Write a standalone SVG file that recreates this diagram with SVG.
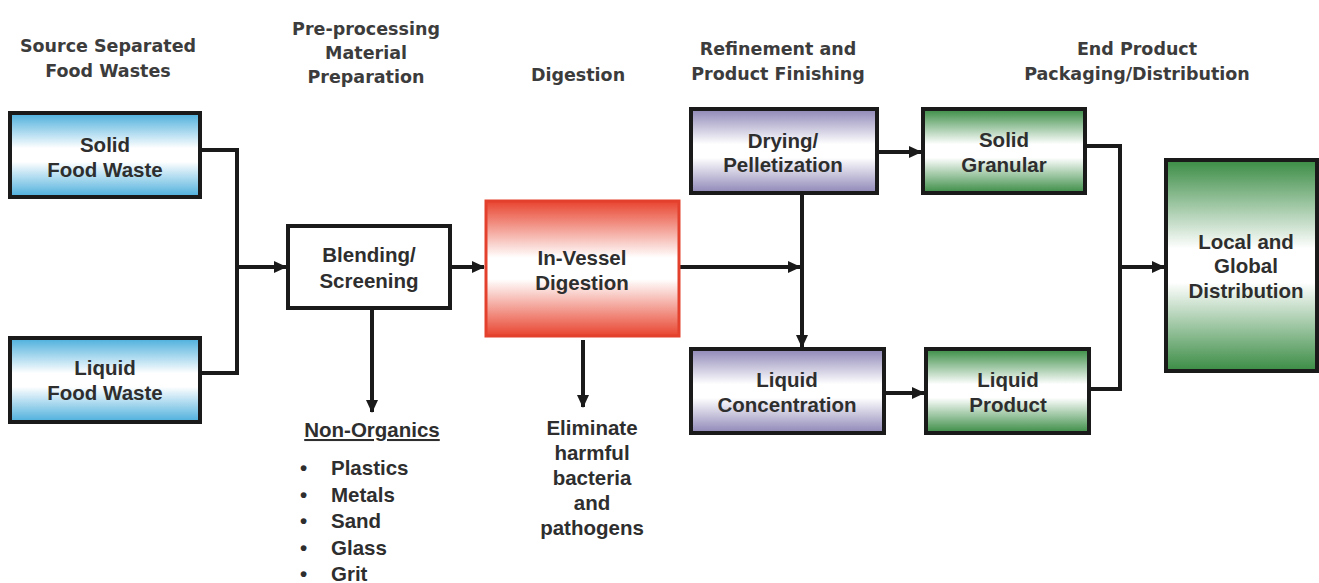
<svg xmlns="http://www.w3.org/2000/svg" width="1319" height="583" viewBox="0 0 1319 583">
<defs>
<linearGradient id="gBlue" x1="0" y1="0" x2="0" y2="1">
<stop offset="0" stop-color="#4aaedc"/><stop offset="0.42" stop-color="#ffffff"/><stop offset="0.58" stop-color="#ffffff"/><stop offset="1" stop-color="#4aaedc"/>
</linearGradient>
<linearGradient id="gPurple" x1="0" y1="0" x2="0" y2="1">
<stop offset="0" stop-color="#8d86b6"/><stop offset="0.42" stop-color="#ffffff"/><stop offset="0.58" stop-color="#ffffff"/><stop offset="1" stop-color="#8d86b6"/>
</linearGradient>
<linearGradient id="gGreen" x1="0" y1="0" x2="0" y2="1">
<stop offset="0" stop-color="#3a8c44"/><stop offset="0.42" stop-color="#ffffff"/><stop offset="0.58" stop-color="#ffffff"/><stop offset="1" stop-color="#3a8c44"/>
</linearGradient>
<linearGradient id="gRed" x1="0" y1="0" x2="0" y2="1">
<stop offset="0" stop-color="#e8442f"/><stop offset="0.42" stop-color="#ffffff"/><stop offset="0.58" stop-color="#ffffff"/><stop offset="1" stop-color="#e8442f"/>
</linearGradient>
<marker id="arr" markerUnits="userSpaceOnUse" markerWidth="13" markerHeight="12" refX="12" refY="6" orient="auto">
<path d="M0,0 L13,6 L0,12 z" fill="#1a1a1a"/>
</marker>
<style>
.box{stroke:#1a1a1a;stroke-width:4}
.hdr{font-family:"DejaVu Sans",sans-serif;font-weight:bold;font-size:17.5px;fill:#3c3c3c;text-anchor:middle}
.t{font-family:"Liberation Sans",Arial,sans-serif;font-weight:bold;font-size:20.5px;fill:#2e2e2e;text-anchor:middle}
.l{font-family:"Liberation Sans",Arial,sans-serif;font-weight:bold;font-size:20.5px;fill:#2e2e2e}
.c{fill:none;stroke:#1a1a1a;stroke-width:4}
</style>
</defs>
<rect width="1319" height="583" fill="#ffffff"/>

<g id="headers">
<text class="hdr" x="108" y="52">Source Separated</text>
<text class="hdr" x="108" y="77">Food Wastes</text>
<text class="hdr" x="366" y="35">Pre-processing</text>
<text class="hdr" x="366" y="59">Material</text>
<text class="hdr" x="366" y="83">Preparation</text>
<text class="hdr" x="578" y="81">Digestion</text>
<text class="hdr" x="778" y="55">Refinement and</text>
<text class="hdr" x="778" y="80">Product Finishing</text>
<text class="hdr" x="1137" y="55">End Product</text>
<text class="hdr" x="1137" y="80">Packaging/Distribution</text>
</g>

<g id="connectors">
<path class="c" d="M200,150 H237 V267"/>
<path class="c" d="M200,373 H237 V267"/>
<path class="c" d="M237,267 H286" marker-end="url(#arr)"/>
<path class="c" d="M450,267 H484" marker-end="url(#arr)"/>
<path class="c" d="M372,308 V412" marker-end="url(#arr)"/>
<path class="c" d="M583,340 V407" marker-end="url(#arr)"/>
<path class="c" d="M680,267 H800" marker-end="url(#arr)"/>
<path class="c" d="M802,193 V347" marker-end="url(#arr)"/>
<path class="c" d="M877,152 H921" marker-end="url(#arr)"/>
<path class="c" d="M884,393 H924" marker-end="url(#arr)"/>
<path class="c" d="M1085,146 H1120 V267"/>
<path class="c" d="M1089,389 H1120 V267"/>
<path class="c" d="M1120,267 H1164" marker-end="url(#arr)"/>
</g>

<g id="solid-food-waste">
<rect class="box" x="10" y="113" width="190" height="84" fill="url(#gBlue)"/>
<text class="t" x="105" y="152">Solid</text>
<text class="t" x="105" y="177">Food Waste</text>
</g>

<g id="liquid-food-waste">
<rect class="box" x="10" y="338" width="190" height="84" fill="url(#gBlue)"/>
<text class="t" x="105" y="375">Liquid</text>
<text class="t" x="105" y="400">Food Waste</text>
</g>

<g id="blending-screening">
<rect class="box" x="288" y="226" width="162" height="82" fill="#ffffff"/>
<text class="t" x="369" y="262">Blending/</text>
<text class="t" x="369" y="288">Screening</text>
</g>

<g id="non-organics">
<text class="t" x="372" y="437" text-decoration="underline">Non-Organics</text>
<text class="l" x="300" y="475">•</text><text class="l" x="331" y="475">Plastics</text>
<text class="l" x="300" y="502">•</text><text class="l" x="331" y="502">Metals</text>
<text class="l" x="300" y="528">•</text><text class="l" x="331" y="528">Sand</text>
<text class="l" x="300" y="555">•</text><text class="l" x="331" y="555">Glass</text>
<text class="l" x="300" y="581">•</text><text class="l" x="331" y="581">Grit</text>
</g>

<g id="in-vessel-digestion">
<rect x="486" y="201" width="193" height="135" fill="url(#gRed)" stroke="#e3402d" stroke-width="3"/>
<text class="t" x="582" y="265">In-Vessel</text>
<text class="t" x="582" y="290">Digestion</text>
</g>

<g id="eliminate">
<text class="t" x="592" y="435">Eliminate</text>
<text class="t" x="592" y="460">harmful</text>
<text class="t" x="592" y="485">bacteria</text>
<text class="t" x="592" y="510">and</text>
<text class="t" x="592" y="535">pathogens</text>
</g>

<g id="drying-pelletization">
<rect class="box" x="691" y="109" width="186" height="84" fill="url(#gPurple)"/>
<text class="t" x="783" y="148">Drying/</text>
<text class="t" x="783" y="172">Pelletization</text>
</g>

<g id="liquid-concentration">
<rect class="box" x="691" y="349" width="193" height="84" fill="url(#gPurple)"/>
<text class="t" x="787" y="387">Liquid</text>
<text class="t" x="787" y="412">Concentration</text>
</g>

<g id="solid-granular">
<rect class="box" x="923" y="109" width="162" height="84" fill="url(#gGreen)"/>
<text class="t" x="1004" y="147">Solid</text>
<text class="t" x="1004" y="172">Granular</text>
</g>

<g id="liquid-product">
<rect class="box" x="926" y="349" width="163" height="84" fill="url(#gGreen)"/>
<text class="t" x="1008" y="387">Liquid</text>
<text class="t" x="1008" y="412">Product</text>
</g>

<g id="distribution">
<rect class="box" x="1166" y="160" width="151" height="211" fill="url(#gGreen)"/>
<text class="t" x="1246" y="249">Local and</text>
<text class="t" x="1246" y="273">Global</text>
<text class="t" x="1246" y="298">Distribution</text>
</g>
</svg>
